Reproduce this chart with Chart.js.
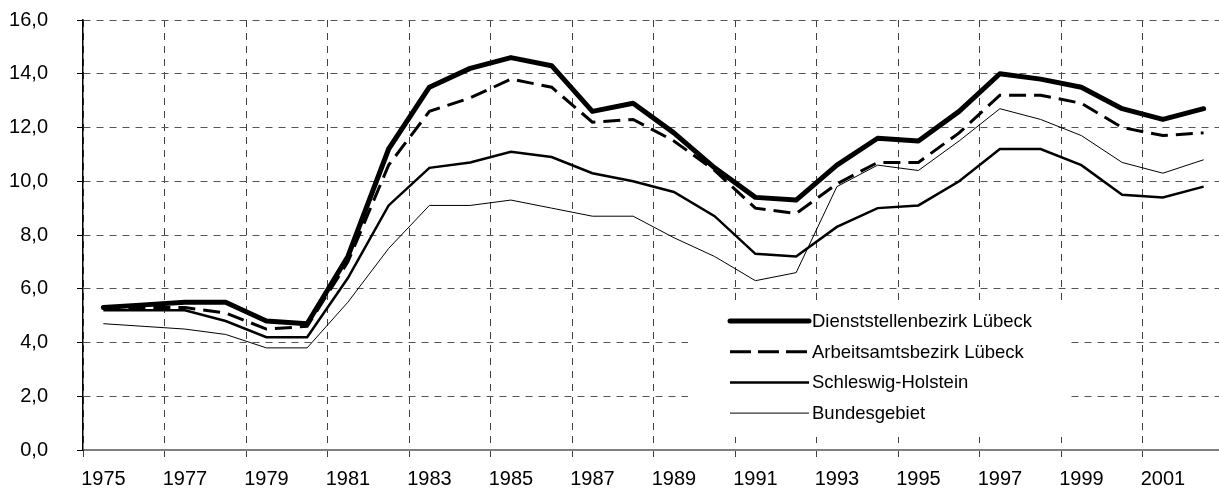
<!DOCTYPE html>
<html>
<head>
<meta charset="utf-8">
<script src="https://cdn.jsdelivr.net/npm/chart.js@4.4.1/dist/chart.umd.min.js"></script>
<style>
  html, body { margin: 0; padding: 0; background: #fff; overflow: hidden; }
  #wrap { width: 1219px; height: 491px; overflow: hidden; position: relative; }
  #box { width: 1224px; height: 491px; position: absolute; left: 0; top: 0; }
</style>
</head>
<body>
<div id="wrap"><div id="box"><canvas id="c"></canvas></div></div>
<script>
const years = [1975,1976,1977,1978,1979,1980,1981,1982,1983,1984,1985,1986,1987,1988,
               1989,1990,1991,1992,1993,1994,1995,1996,1997,1998,1999,2000,2001,2002];
const dienststelle = [5.3,5.4,5.5,5.5,4.8,4.7,7.2,11.2,13.5,14.2,14.6,14.3,12.6,12.9,
                      11.8,10.5,9.4,9.3,10.6,11.6,11.5,12.6,14.0,13.8,13.5,12.7,12.3,12.7];
const arbeitsamt   = [5.3,5.3,5.3,5.1,4.5,4.6,7.0,10.6,12.6,13.1,13.8,13.5,12.2,12.3,
                      11.5,10.4,9.0,8.8,9.9,10.7,10.7,11.8,13.2,13.2,12.9,12.0,11.7,11.8];
const schleswigHolstein = [5.2,5.2,5.2,4.8,4.2,4.2,6.4,9.1,10.5,10.7,11.1,10.9,10.3,10.0,
                      9.6,8.7,7.3,7.2,8.3,9.0,9.1,10.0,11.2,11.2,10.6,9.5,9.4,9.8];
const bundesgebiet = [4.7,4.6,4.5,4.3,3.8,3.8,5.5,7.5,9.1,9.1,9.3,9.0,8.7,8.7,
                      7.9,7.2,6.3,6.6,9.8,10.6,10.4,11.5,12.7,12.3,11.7,10.7,10.3,10.8];
const seriesNames = ['Dienststellenbezirk Lübeck','Arbeitsamtsbezirk Lübeck','Schleswig-Holstein','Bundesgebiet'];
const yTicks = [0,2,4,6,8,10,12,14,16];

const FONT = '"Liberation Sans", Arial, sans-serif';

const legendBox = {
  id: 'legendBox',
  beforeDatasetsDraw(chart) {
    const ca = chart.chartArea, ctx = chart.ctx;
    const x = ca.left + 605, y = ca.top + 280, w = 382, h = 137;
    ctx.save();
    ctx.fillStyle = '#fff';
    ctx.fillRect(x, y, w, h);
    ctx.restore();
  },
  afterDatasetsDraw(chart) {
    const ca = chart.chartArea, ctx = chart.ctx;
    const x = ca.left + 605, y = ca.top + 280;
    const legendDash = [[], [21, 7], [], []];
    chart.data.datasets.forEach((ds, i) => {
      const ry = y + 21 + i * 30.7;
      ctx.save();
      ctx.strokeStyle = ds.borderColor;
      ctx.lineWidth = ds.borderWidth;
      ctx.lineCap = i === 0 ? 'round' : 'butt';
      ctx.setLineDash(legendDash[i]);
      ctx.beginPath();
      ctx.moveTo(x + 42, ry);
      ctx.lineTo(x + 121, ry);
      ctx.stroke();
      ctx.setLineDash([]);
      ctx.fillStyle = '#000';
      ctx.font = '18.5px ' + FONT;
      ctx.textBaseline = 'middle';
      ctx.textAlign = 'left';
      ctx.fillText(ds.label, x + 124, ry + 1);
      ctx.restore();
    });
  }
};

new Chart(document.getElementById('c'), {
  type: 'line',
  data: {
    labels: years.map(String),
    datasets: [
      { label: seriesNames[0], data: dienststelle, borderColor: '#000', borderWidth: 5,
        borderJoinStyle: 'round', borderCapStyle: 'round' },
      { label: seriesNames[1], data: arbeitsamt, borderColor: '#000', borderWidth: 3,
        borderDash: [17, 8] },
      { label: seriesNames[2], data: schleswigHolstein, borderColor: '#000', borderWidth: 2.5 },
      { label: seriesNames[3], data: bundesgebiet, borderColor: '#000', borderWidth: 1 }
    ]
  },
  options: {
    responsive: true,
    maintainAspectRatio: false,
    animation: false,
    devicePixelRatio: 1,
    layout: { padding: { top: 20, left: 0, right: 0, bottom: 0 } },
    elements: { point: { radius: 0, hoverRadius: 0 }, line: { tension: 0 } },
    plugins: { legend: { display: false }, tooltip: { enabled: false } },
    scales: {
      x: {
        type: 'category',
        offset: true,
        grid: {
          offset: true,
          color: (ctx) => (ctx.index % 2 === 0 ? '#404040' : 'rgba(0,0,0,0)'),
          lineWidth: 1,
          tickLength: 7,
          drawTicks: true
        },
        border: { display: true, color: '#808080', width: 2, dash: [7, 6] },
        ticks: {
          autoSkip: false,
          maxRotation: 0,
          minRotation: 0,
          padding: 10,
          color: '#000',
          font: { family: FONT, size: 20 },
          callback: function (val, idx) { return idx % 2 === 0 ? this.getLabelForValue(val) : ''; }
        },
        afterFit: (s) => { s.height = 41; }
      },
      y: {
        min: 0,
        max: 16,
        afterBuildTicks: (s) => { s.ticks = yTicks.map(v => ({ value: v })); },
        grid: {
          color: '#555',
          lineWidth: 1,
          tickLength: 6,
          tickColor: '#000'
        },
        border: { display: true, color: '#000', width: 1.5, dash: [7, 6] },
        ticks: {
          padding: 29,
          color: '#000',
          font: { family: FONT, size: 20 },
          callback: (v) => Number(v).toFixed(1).replace('.', ',')
        },
        afterFit: (s) => { s.width = 83; s.paddingTop = 0; s.paddingBottom = 0; }
      }
    }
  },
  plugins: [legendBox]
});
</script>
</body>
</html>
